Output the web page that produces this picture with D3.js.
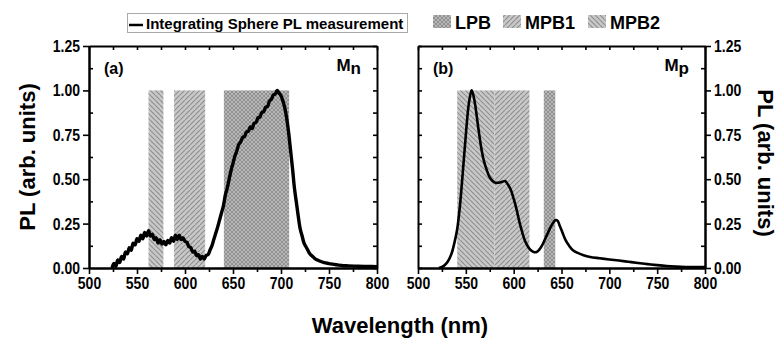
<!DOCTYPE html>
<html>
<head>
<meta charset="utf-8">
<script src="https://cdn.jsdelivr.net/npm/d3@7/dist/d3.min.js"></script>
<style>
  html, body { margin: 0; padding: 0; background: #fff; }
  svg { display: block; font-family: "Liberation Sans", Arial, sans-serif; font-weight: bold; }
  .tick text { transform-box: fill-box; transform-origin: center; transform: scaleY(1.2); }
</style>
</head>
<body>
<svg id="chart" width="779" height="338"></svg>
<script>
// ---- data ----
const wavelengthTicks = [500, 550, 600, 650, 700, 750, 800];
const wavelengthMinor = [525, 575, 625, 675, 725, 775];
const plTicks = [0, 0.25, 0.5, 0.75, 1.0, 1.25];
const plMinor = [0.125, 0.375, 0.625, 0.875, 1.125];

// Mn sample (panel a) – integrating sphere PL, normalised
const mnWavelength = [524, 526, 528, 530, 532, 534, 536, 538, 540, 542, 544, 546, 548, 550, 552, 554, 556, 558, 560,
  562, 564, 566, 568, 570, 572, 574, 576, 578, 580, 582, 584, 586, 588, 590, 592, 594, 596, 598, 600,
  602, 604, 606, 608, 610, 612, 614, 616, 618, 620, 622, 624, 626, 628, 630, 632, 634, 636, 638, 640,
  642, 644, 646, 648, 650, 652, 654, 656, 658, 660, 662, 664, 666, 668, 670, 672, 674, 676, 678, 680,
  682, 684, 686, 688, 690, 692, 694, 696, 698, 700, 702, 704, 706, 708, 710, 712, 714, 716, 718, 720,
  722, 724, 726, 728, 730, 733, 736, 740, 745, 750, 755, 760, 765, 770, 780, 790, 800];
const mnPL = [0.00, 0.025, 0.01, 0.045, 0.03, 0.065, 0.05, 0.09, 0.08, 0.115, 0.10, 0.14, 0.13, 0.165, 0.15, 0.185, 0.165, 0.20, 0.18,
  0.21, 0.18, 0.19, 0.16, 0.17, 0.14, 0.16, 0.135, 0.15, 0.13, 0.155, 0.14, 0.17, 0.15, 0.185, 0.16, 0.185, 0.16, 0.17, 0.15,
  0.145, 0.12, 0.115, 0.09, 0.095, 0.07, 0.075, 0.05, 0.065, 0.05, 0.07, 0.075, 0.10, 0.125, 0.16, 0.195, 0.23, 0.27, 0.31, 0.35,
  0.41, 0.45, 0.50, 0.55, 0.59, 0.63, 0.66, 0.695, 0.71, 0.735, 0.74, 0.765, 0.77, 0.795, 0.785, 0.815, 0.82, 0.845, 0.85, 0.875,
  0.88, 0.905, 0.91, 0.94, 0.95, 0.975, 0.98, 1.00, 0.985, 0.97, 0.94, 0.90, 0.84, 0.76, 0.66, 0.56, 0.45, 0.37, 0.29, 0.22,
  0.18, 0.14, 0.12, 0.10, 0.08, 0.065, 0.05, 0.04, 0.03, 0.025, 0.02, 0.016, 0.013, 0.012, 0.01, 0.009, 0.008];

// Mp sample (panel b)
const mpWavelength = [522, 527, 531, 535, 538, 541, 544, 547, 550, 553, 556, 558, 560, 563, 566, 569, 572, 575, 578, 581,
  584, 588, 591, 594, 597, 600, 603, 606, 609, 612, 615, 618, 621, 624, 627, 630, 633, 636, 639, 642, 644, 646, 648,
  651, 654, 658, 662, 667, 673, 680, 690, 700, 710, 720, 730, 740, 750, 760, 770, 780, 790, 800];
const mpPL = [0.0, 0.012, 0.035, 0.08, 0.14, 0.22, 0.36, 0.55, 0.75, 0.92, 1.0, 0.97, 0.91, 0.79, 0.68, 0.60, 0.55, 0.51, 0.49, 0.48,
  0.48, 0.485, 0.49, 0.47, 0.44, 0.39, 0.33, 0.26, 0.20, 0.15, 0.12, 0.10, 0.09, 0.09, 0.105, 0.13, 0.165, 0.20, 0.235, 0.26, 0.27, 0.265, 0.24,
  0.20, 0.16, 0.125, 0.10, 0.085, 0.072, 0.062, 0.055, 0.048, 0.042, 0.035, 0.028, 0.022, 0.016, 0.011, 0.008, 0.006, 0.005, 0.005];

// Polariton bands (wavelength ranges, nm)
const mnBandType = ["MPB2", "MPB1", "LPB"];
const mnBandStart = [562, 588.5, 640.5];
const mnBandEnd = [577.5, 621, 708.5];
const mpBandType = ["MPB2", "MPB1", "LPB"];
const mpBandStart = [541, 580, 631.5];
const mpBandEnd = [580, 616.5, 643.5];
const bandHeight = 1.0;

const legendBands = ["LPB", "MPB1", "MPB2"];
const legendLine = "Integrating Sphere PL measurement";

// ---- drawing ----
const svg = d3.select("#chart");
const defs = svg.append("defs");

const hatchBg = "#c8c8c8";
const hatchFg = "#8e8e8e";

function hatch(id, dirs, size) {
  const p = defs.append("pattern").attr("id", id)
    .attr("patternUnits", "userSpaceOnUse").attr("width", size).attr("height", size);
  p.append("rect").attr("width", size).attr("height", size).attr("fill", hatchBg);
  dirs.forEach(d => {
    const path = d === "/"
      ? `M0,${size} L${size},0 M${-size},${size} L0,0 M${size},${2 * size} L${2 * size},${size}`
      : `M0,0 L${size},${size} M${-size},0 L0,${size} M${size},0 L${2 * size},${size}`;
    p.append("path").attr("d", path).attr("stroke", hatchFg).attr("stroke-width", 1.1);
  });
}
hatch("pat-MPB1", ["/"], 5);
hatch("pat-MPB2", ["\\"], 5);
hatch("pat-LPB", ["/", "\\"], 4);

const y = d3.scaleLinear().domain([0, 1.25]).range([268, 46]);

const panels = [
  { x0: 89, x1: 377, wl: mnWavelength, pl: mnPL, types: mnBandType, starts: mnBandStart, ends: mnBandEnd,
    tag: "(a)", mat: "M", sub: "n", labelsLeft: true, width: 3.4 },
  { x0: 418, x1: 705, wl: mpWavelength, pl: mpPL, types: mpBandType, starts: mpBandStart, ends: mpBandEnd,
    tag: "(b)", mat: "M", sub: "p", labelsLeft: false, width: 2.6 }
];

panels.forEach(pn => {
  const x = d3.scaleLinear().domain([500, 800]).range([pn.x0, pn.x1]);
  const g = svg.append("g");

  // bands
  g.selectAll("rect.band").data(pn.types.map((t, i) => ({ t, s: pn.starts[i], e: pn.ends[i] })))
    .join("rect").attr("class", "band")
    .attr("x", d => x(d.s)).attr("width", d => x(d.e) - x(d.s))
    .attr("y", y(bandHeight)).attr("height", y(0) - y(bandHeight))
    .attr("fill", d => `url(#pat-${d.t})`);

  // spectrum
  const pts = pn.wl.map((w, i) => [w, pn.pl[i]]);
  g.append("path").datum(pts)
    .attr("fill", "none").attr("stroke", "#000").attr("stroke-width", pn.width)
    .attr("stroke-linejoin", "round")
    .attr("d", d3.line().x(d => x(d[0])).y(d => y(d[1])).curve(d3.curveCatmullRom.alpha(0.5)));

  const fmtY = d3.format(".2f");
  const addAxis = (axis, transform, labels) => {
    const a = g.append("g").attr("transform", transform).call(axis);
    a.select(".domain").attr("stroke-width", 2);
    a.selectAll(".tick line").attr("stroke-width", 1.6);
    a.selectAll("text").attr("font-size", 14).attr("font-weight", "bold")
      .attr("font-family", "'Liberation Sans', Arial, sans-serif").attr("fill", "#000");
    if (!labels) a.selectAll("text").remove();
    return a;
  };

  // bottom
  addAxis(d3.axisBottom(x).tickValues(wavelengthTicks).tickSize(6).tickSizeOuter(0).tickPadding(4).tickFormat(d3.format("d")),
    `translate(0,${y(0)})`, true);
  addAxis(d3.axisBottom(x).tickValues(wavelengthMinor).tickSize(4).tickSizeOuter(0).tickFormat(""),
    `translate(0,${y(0)})`, false);
  // top (inward)
  addAxis(d3.axisTop(x).tickValues(wavelengthTicks.concat(wavelengthMinor)).tickSize(-4).tickSizeOuter(0).tickFormat(""),
    `translate(0,${y(1.25)})`, false);

  if (pn.labelsLeft) {
    addAxis(d3.axisLeft(y).tickValues(plTicks).tickSize(6).tickSizeOuter(0).tickPadding(3).tickFormat(fmtY),
      `translate(${pn.x0},0)`, true);
    addAxis(d3.axisLeft(y).tickValues(plMinor).tickSize(-4).tickSizeOuter(0).tickFormat(""),
      `translate(${pn.x0},0)`, false);
    addAxis(d3.axisRight(y).tickValues(plTicks.concat(plMinor)).tickSize(-4).tickSizeOuter(0).tickFormat(""),
      `translate(${pn.x1},0)`, false);
  } else {
    addAxis(d3.axisLeft(y).tickValues(plTicks.concat(plMinor)).tickSize(-4).tickSizeOuter(0).tickFormat(""),
      `translate(${pn.x0},0)`, false);
    addAxis(d3.axisRight(y).tickValues(plTicks).tickSize(6).tickSizeOuter(0).tickPadding(3).tickFormat(fmtY),
      `translate(${pn.x1},0)`, true);
    addAxis(d3.axisRight(y).tickValues(plMinor).tickSize(-4).tickSizeOuter(0).tickFormat(""),
      `translate(${pn.x1},0)`, false);
  }

  // panel tags
  g.append("text").attr("x", pn.x0 + 15).attr("y", 74).attr("font-size", 16).text(pn.tag);
  const m = g.append("text").attr("x", pn.x1 - 16).attr("y", 71).attr("text-anchor", "end").attr("font-size", 17);
  m.append("tspan").text(pn.mat);
  m.append("tspan").attr("dy", 3).text(pn.sub);
});

// axis titles
svg.append("text").attr("transform", `translate(35,${(y(0) + y(1.25)) / 2}) rotate(-90)`)
  .attr("text-anchor", "middle").attr("font-size", 22).text("PL (arb. units)");
svg.append("text").attr("transform", `translate(758,${(y(0) + y(1.25)) / 2 + 6}) rotate(90)`)
  .attr("text-anchor", "middle").attr("font-size", 22).text("PL (arb. units)");
svg.append("text").attr("x", 400).attr("y", 333).attr("text-anchor", "middle").attr("font-size", 22)
  .text("Wavelength (nm)");

// legend
const lg = svg.append("g");
lg.append("rect").attr("x", 127.5).attr("y", 13.5).attr("width", 280).attr("height", 19)
  .attr("fill", "#fff").attr("stroke", "#aaa").attr("stroke-width", 1);
lg.append("line").attr("x1", 129).attr("x2", 143).attr("y1", 25).attr("y2", 25)
  .attr("stroke", "#000").attr("stroke-width", 2.5);
lg.append("text").attr("x", 146).attr("y", 29).attr("font-size", 15).text(legendLine);

const swatchX = [433, 503, 588];
legendBands.forEach((b, i) => {
  lg.append("rect").attr("x", swatchX[i]).attr("y", 15).attr("width", 18).attr("height", 13)
    .attr("fill", `url(#pat-${b})`);
  lg.append("text").attr("x", swatchX[i] + 22).attr("y", 28.5).attr("font-size", 18).text(b);
});
</script>
</body>
</html>
